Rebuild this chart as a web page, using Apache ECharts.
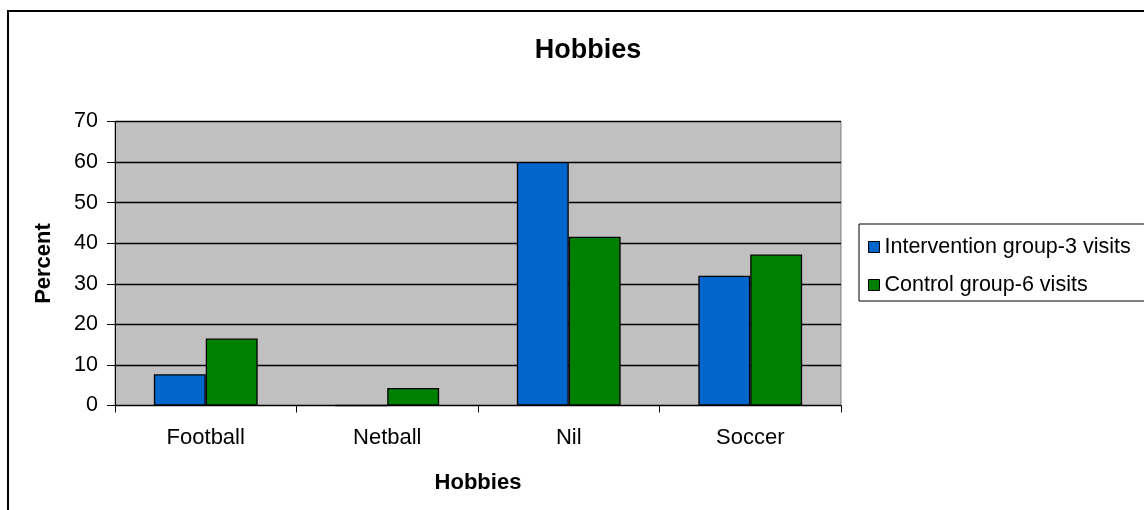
<!DOCTYPE html>
<html>
<head>
<meta charset="utf-8">
<script src="https://cdn.jsdelivr.net/npm/echarts@6/dist/echarts.min.js"></script>
<style>
html,body{margin:0;padding:0;background:#fff;}
#chart{width:1144px;height:510px;}
</style>
</head>
<body>
<div id="chart"></div>
<script>
const categories = ['Football', 'Netball', 'Nil', 'Soccer'];
const intervention = [7.7, 0, 60, 32.0];
const control = [16.5, 4.3, 41.6, 37.2];
const seriesNames = ['Intervention group-3 visits', 'Control group-6 visits'];
const yTicks = [0, 10, 20, 30, 40, 50, 60, 70];

const FONT = '"Liberation Sans", Arial, sans-serif';
const chart = echarts.init(document.getElementById('chart'));
chart.setOption({
  animation: false,
  backgroundColor: '#fff',
  textStyle: { fontFamily: FONT },
  title: {
    text: 'Hobbies',
    left: 583, top: 32, textAlign: 'center',
    textStyle: { fontSize: 27, fontWeight: 'bold', color: '#000', fontFamily: FONT }
  },
  graphic: [{
    type: 'rect', z: 0, silent: true,
    shape: { x: 8, y: 11, width: 1160, height: 520 },
    style: { fill: 'none', stroke: '#000', lineWidth: 2 }
  }],
  legend: {
    left: 859, top: 224,
    orient: 'vertical',
    padding: [12, 30, 5, 9],
    itemGap: 16,
    itemWidth: 11, itemHeight: 11,
    borderColor: '#000', borderWidth: 1,
    backgroundColor: '#fff',
    textStyle: { fontSize: 21.5, color: '#000', fontFamily: FONT },
    data: seriesNames.map(n => ({ name: n, icon: 'rect', itemStyle: { borderColor: '#000', borderWidth: 1 } }))
  },
  grid: { left: 115, top: 121.5, right: 303, bottom: 104.5, show: true, backgroundColor: '#c0c0c0', borderColor: '#808080', borderWidth: 1 },
  xAxis: {
    type: 'category', data: categories,
    name: 'Hobbies', nameLocation: 'middle', nameGap: 66,
    nameTextStyle: { fontSize: 22, fontWeight: 'bold', color: '#000', fontFamily: FONT },
    axisLine: { lineStyle: { color: '#000', width: 1 } },
    axisTick: { show: true, length: 7, lineStyle: { color: '#000' } },
    axisLabel: { fontSize: 22, color: '#000', margin: 21, fontFamily: FONT }
  },
  yAxis: {
    type: 'value', min: 0, max: 70, interval: 10,
    name: 'Percent', nameLocation: 'middle', nameGap: 60, nameRotate: 90,
    nameTextStyle: { fontSize: 22, fontWeight: 'bold', color: '#000', fontFamily: FONT },
    axisLine: { show: true, lineStyle: { color: '#000', width: 1 } },
    axisTick: { show: true, length: 8, lineStyle: { color: '#000' } },
    axisLabel: { fontSize: 21.5, color: '#000', margin: 17, fontFamily: FONT,
      formatter: v => yTicks.includes(v) ? String(v) : '' },
    splitLine: { show: true, lineStyle: { color: '#000', width: 1.3 } }
  },
  series: [
    { name: seriesNames[0], type: 'bar', data: intervention, barGap: '0%', barCategoryGap: '42.8%',
      itemStyle: { color: '#0066cc', borderColor: '#000', borderWidth: 1.3 } },
    { name: seriesNames[1], type: 'bar', data: control, barGap: '0%', barCategoryGap: '42.8%',
      itemStyle: { color: '#008000', borderColor: '#000', borderWidth: 1.3 } }
  ]
});
</script>
</body>
</html>
